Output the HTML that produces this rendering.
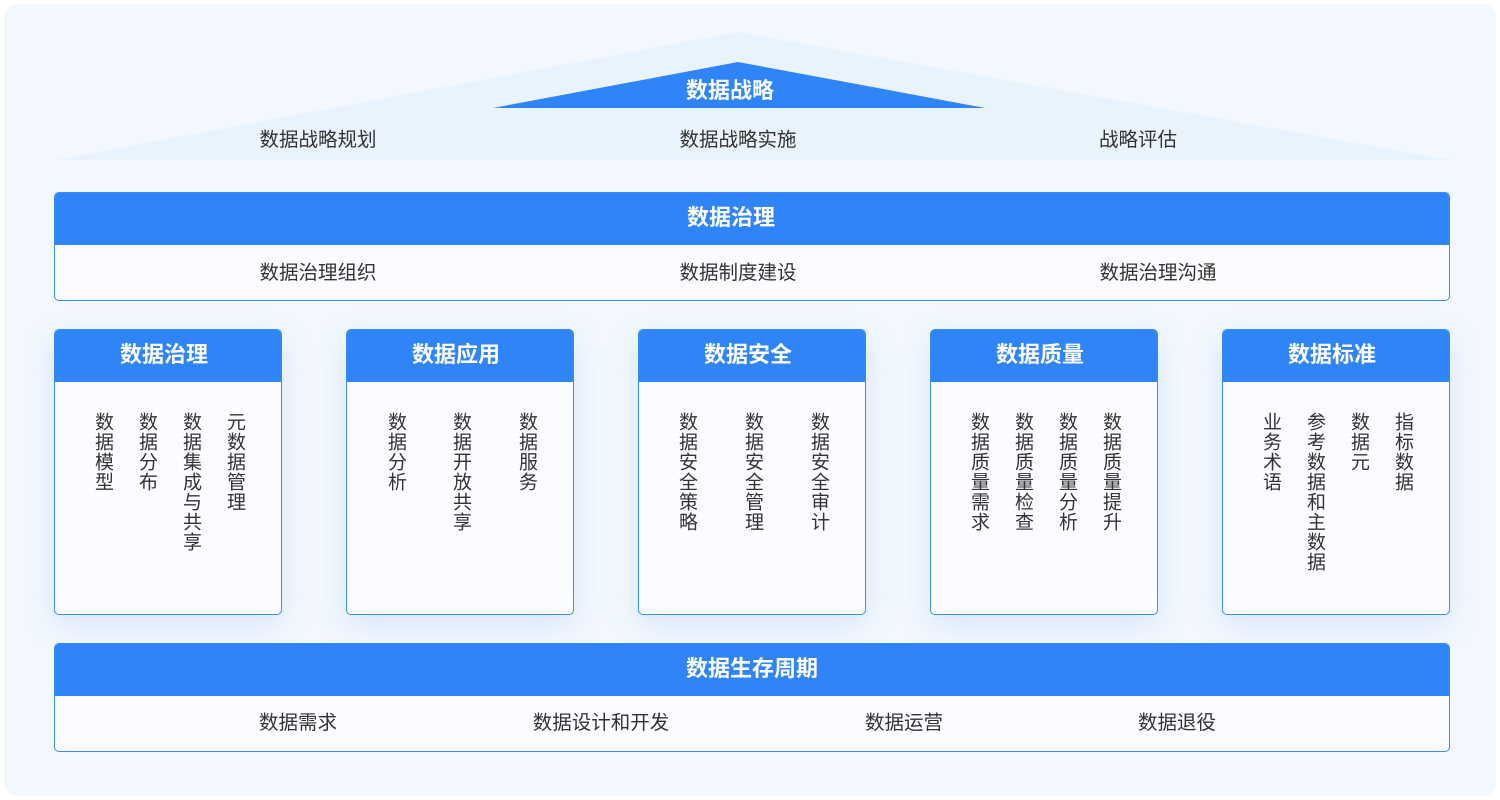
<!DOCTYPE html>
<html><head><meta charset="utf-8"><style>
body{margin:0;width:1500px;height:800px;background:#fff;font-family:"Liberation Sans","Noto Sans CJK SC",sans-serif;position:relative;overflow:hidden}
.panel{position:absolute;left:4px;top:4px;width:1492px;height:792px;border-radius:14px;background:#f3f8fe}
.abs{position:absolute}
.lbl{position:absolute;font-size:19.5px;color:#333;transform:translateX(-50%);white-space:nowrap;line-height:20px}
.box{position:absolute;border:1px solid #3b8cf5;border-radius:5px;background:#fafcff;overflow:hidden}
.hd{background:#2f84f7;color:#fff;font-weight:bold;font-size:22px;text-align:center;height:52px;line-height:50px}
.card .hd{padding-right:8px;box-sizing:border-box}
.card{box-shadow:0 10px 30px rgba(90,150,240,.18)}
.v{position:absolute;top:412px;writing-mode:vertical-rl;font-size:19px;letter-spacing:1px;color:#333;transform:translateX(-50%);line-height:20px}
</style></head><body>
<div class="panel"></div>
<svg class="abs" style="left:0;top:0" width="1500" height="170">
<polygon points="55,160 738,32 1450,160" fill="#e8f3fe"/>
<polygon points="493,108 738,62 985,108" fill="#2f84f7"/>
<text x="730" y="98" text-anchor="middle" fill="#fff" font-size="22" font-weight="bold" font-family="Liberation Sans,Noto Sans CJK SC,sans-serif">数据战略</text>
</svg>
<div class="lbl" style="left:318px;top:130px">数据战略规划</div>
<div class="lbl" style="left:738px;top:130px">数据战略实施</div>
<div class="lbl" style="left:1138px;top:130px">战略评估</div>

<div class="box" style="left:54px;top:192px;width:1394px;height:107px"><div class="hd" style="padding-right:42px">数据治理</div></div>
<div class="lbl" style="left:318px;top:263px">数据治理组织</div>
<div class="lbl" style="left:738px;top:263px">数据制度建设</div>
<div class="lbl" style="left:1158px;top:263px">数据治理沟通</div>

<div class="box card" style="left:54px;top:329px;width:226px;height:284px"><div class="hd">数据治理</div></div>
<div class="box card" style="left:346px;top:329px;width:226px;height:284px"><div class="hd">数据应用</div></div>
<div class="box card" style="left:638px;top:329px;width:226px;height:284px"><div class="hd">数据安全</div></div>
<div class="box card" style="left:930px;top:329px;width:226px;height:284px"><div class="hd">数据质量</div></div>
<div class="box card" style="left:1222px;top:329px;width:226px;height:284px"><div class="hd">数据标准</div></div>

<div class="v" style="left:102px">数据模型</div>
<div class="v" style="left:146px">数据分布</div>
<div class="v" style="left:190px">数据集成与共享</div>
<div class="v" style="left:234px">元数据管理</div>
<div class="v" style="left:395px">数据分析</div>
<div class="v" style="left:460px">数据开放共享</div>
<div class="v" style="left:526px">数据服务</div>
<div class="v" style="left:686px">数据安全策略</div>
<div class="v" style="left:752px">数据安全管理</div>
<div class="v" style="left:818px">数据安全审计</div>
<div class="v" style="left:978px">数据质量需求</div>
<div class="v" style="left:1022px">数据质量检查</div>
<div class="v" style="left:1066px">数据质量分析</div>
<div class="v" style="left:1110px">数据质量提升</div>
<div class="v" style="left:1270px">业务术语</div>
<div class="v" style="left:1314px">参考数据和主数据</div>
<div class="v" style="left:1358px">数据元</div>
<div class="v" style="left:1402px">指标数据</div>

<div class="box" style="left:54px;top:643px;width:1394px;height:107px"><div class="hd">数据生存周期</div></div>
<div class="lbl" style="left:298px;top:713px">数据需求</div>
<div class="lbl" style="left:601px;top:713px">数据设计和开发</div>
<div class="lbl" style="left:904px;top:713px">数据运营</div>
<div class="lbl" style="left:1177px;top:713px">数据退役</div>
</body></html>
